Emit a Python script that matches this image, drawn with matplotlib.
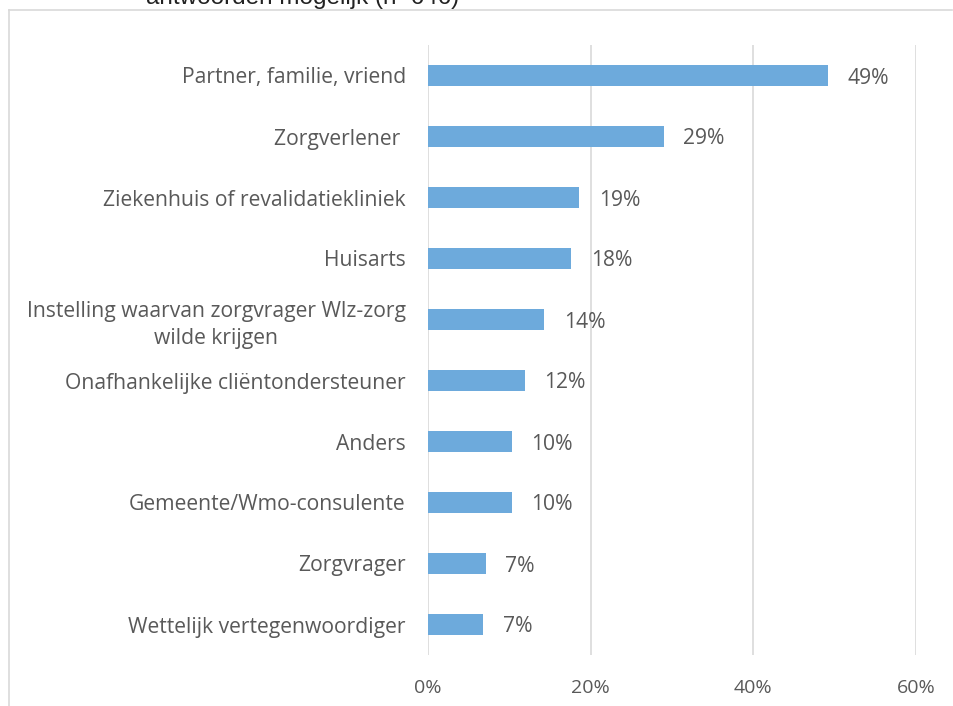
import matplotlib
matplotlib.use("Agg")
import matplotlib.pyplot as plt
from matplotlib.lines import Line2D

categories = [
    "Partner, familie, vriend",
    "Zorgverlener ",
    "Ziekenhuis of revalidatiekliniek",
    "Huisarts",
    "Instelling waarvan zorgvrager Wlz-zorg\nwilde krijgen",
    "Onafhankelijke cliëntondersteuner",
    "Anders",
    "Gemeente/Wmo-consulente",
    "Zorgvrager",
    "Wettelijk vertegenwoordiger",
]
values = [49.2, 29.0, 18.6, 17.6, 14.3, 11.9, 10.3, 10.3, 7.1, 6.8]
value_labels = ["49%", "29%", "19%", "18%", "14%", "12%", "10%", "10%", "7%", "7%"]
xticks = [0, 20, 40, 60]
xtick_labels = ["0%", "20%", "40%", "60%"]
title_text = "antwoorden mogelijk (n=646)"

plt.rcParams['font.family'] = ['Open Sans', 'DejaVu Sans']
text_color = "#595959"
bar_color = "#6DAADC"

W, H = 954, 706
fig = plt.figure(figsize=(W / 100, H / 100), dpi=100)
ax = fig.add_axes([428 / W, 1 - 655 / H, (916 - 428) / W, (655 - 45) / H])

n = len(categories)
ypos = list(range(n))
ax.barh(ypos, values, height=0.33, color=bar_color, zorder=3)
ax.set_ylim(n - 0.5, -0.5)
ax.set_xlim(0, 60)
ax.set_xticks(xticks)
ax.set_xticklabels(xtick_labels, fontsize=14, color=text_color)
ax.set_yticks(ypos)
ax.set_yticklabels(categories, fontsize=15.2, color=text_color, linespacing=1.35)
for lbl in ax.get_yticklabels():
    lbl.set_multialignment('center')
    lbl.set_verticalalignment('center_baseline')
ax.tick_params(axis='y', length=0, pad=16)
ax.tick_params(axis='x', length=0, pad=17)
ax.grid(axis='x', color="#d9d9d9", linewidth=1.2, zorder=0)
for s in ax.spines.values():
    s.set_visible(False)

for y, v, lab in zip(ypos, values, value_labels):
    ax.text(v + 2.4, y, lab, va='center_baseline', ha='left', fontsize=15.2, color=text_color)

# chart border (top and left edges visible)
fig.add_artist(Line2D([9 / W, 952 / W], [1 - 10 / H, 1 - 10 / H], color="#d9d9d9", lw=1.2, transform=fig.transFigure))
fig.add_artist(Line2D([9 / W, 9 / W], [1 - 10 / H, 0], color="#d9d9d9", lw=1.2, transform=fig.transFigure))

fig.text(146 / W, 1 - 4 / H, title_text, fontsize=17.5, color="#222222",
         family=['Liberation Sans Narrow', 'Liberation Sans', 'DejaVu Sans'], va='baseline', ha='left')

fig.savefig("out.png", dpi=100)
